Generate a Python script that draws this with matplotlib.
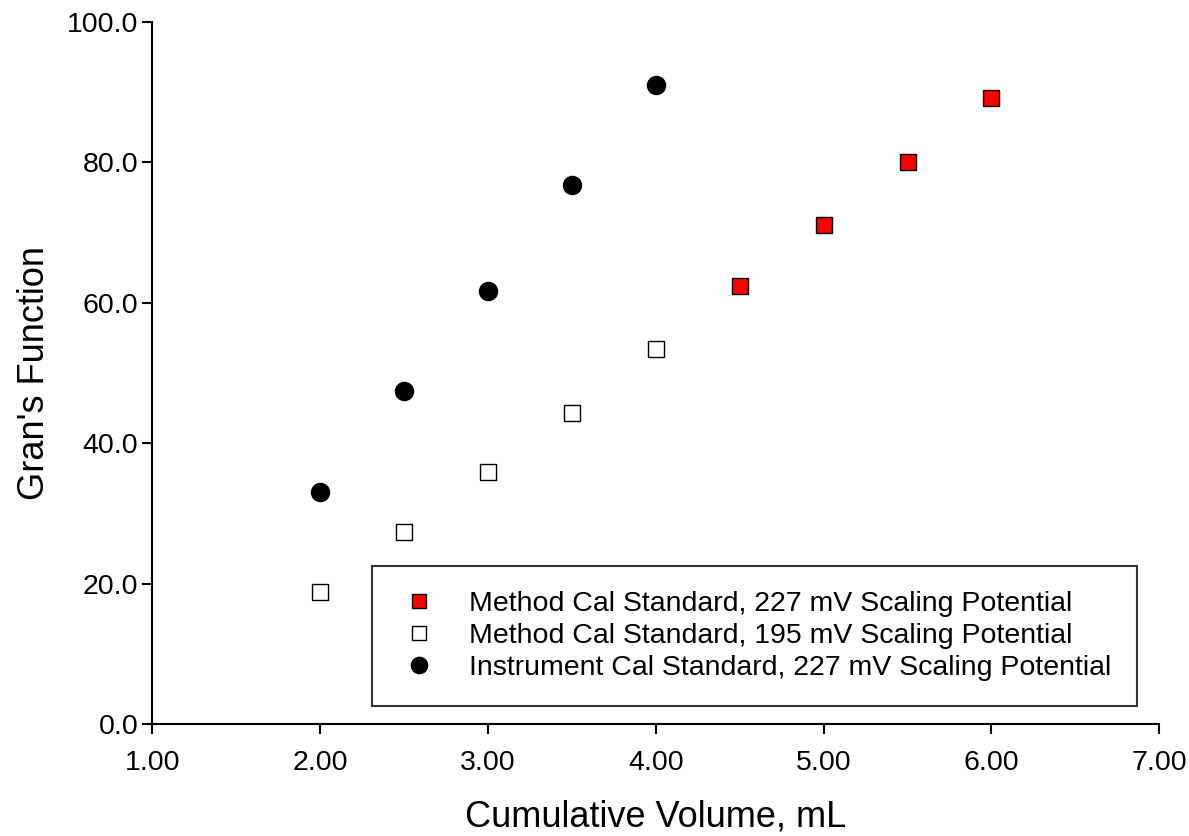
import numpy as np
import matplotlib as mpl
import matplotlib.pyplot as plt

mpl.rcParams['font.family'] = ['Liberation Sans', 'DejaVu Sans']

# data
vol_method_227 = [4.5, 5.0, 5.5, 6.0]
gran_method_227 = [62.3, 71.1, 80.0, 89.2]

vol_method_195 = [2.0, 2.5, 3.0, 3.5, 4.0]
gran_method_195 = [18.8, 27.4, 35.9, 44.3, 53.4]

vol_instr_227 = [2.0, 2.5, 3.0, 3.5, 4.0]
gran_instr_227 = [33.0, 47.4, 61.7, 76.7, 91.0]

labels = ["Method Cal Standard, 227 mV Scaling Potential",
          "Method Cal Standard, 195 mV Scaling Potential",
          "Instrument Cal Standard, 227 mV Scaling Potential"]

fig, ax = plt.subplots(figsize=(11.89, 8.36), dpi=100)
fig.subplots_adjust(left=0.128, right=0.975, top=0.974, bottom=0.134)

ax.plot(vol_method_227, gran_method_227, 's', ms=11.5, mfc='red', mec='black',
        mew=1.0, label=labels[0], zorder=3)
ax.plot(vol_method_195, gran_method_195, 's', ms=11.5, mfc='white', mec='black',
        mew=1.0, label=labels[1], zorder=3)
ax.plot(vol_instr_227, gran_instr_227, 'o', ms=13, mfc='black', mec='black',
        label=labels[2], zorder=3)

ax.set_xlim(1, 7)
ax.set_ylim(0, 100)
ax.set_xticks(np.arange(1, 7.01, 1))
ax.set_yticks(np.arange(0, 100.1, 20))
ax.xaxis.set_major_formatter(mpl.ticker.FormatStrFormatter('%.2f'))
ax.yaxis.set_major_formatter(mpl.ticker.FormatStrFormatter('%.1f'))
ax.tick_params(direction='out', length=7, width=1.5, labelsize=20.5)
ax.tick_params(axis='x', pad=12)
ax.tick_params(axis='y', pad=3)

for s in ['top', 'right']:
    ax.spines[s].set_visible(False)
for s in ['left', 'bottom']:
    ax.spines[s].set_linewidth(1.5)

ax.set_xlabel("Cumulative Volume, mL", fontsize=26, labelpad=17)
ax.set_ylabel("Gran's Function", fontsize=26, labelpad=11)

leg = ax.legend(loc='lower right', bbox_to_anchor=(0.978, 0.025), fontsize=20.5,
                frameon=True, fancybox=False, edgecolor='black', borderpad=0.9,
                handlelength=1.5, handletextpad=1.0, labelspacing=0.2,
                borderaxespad=0, markerscale=0.9)
leg.get_frame().set_linewidth(1.5)

plt.savefig('out.png', dpi=100)
